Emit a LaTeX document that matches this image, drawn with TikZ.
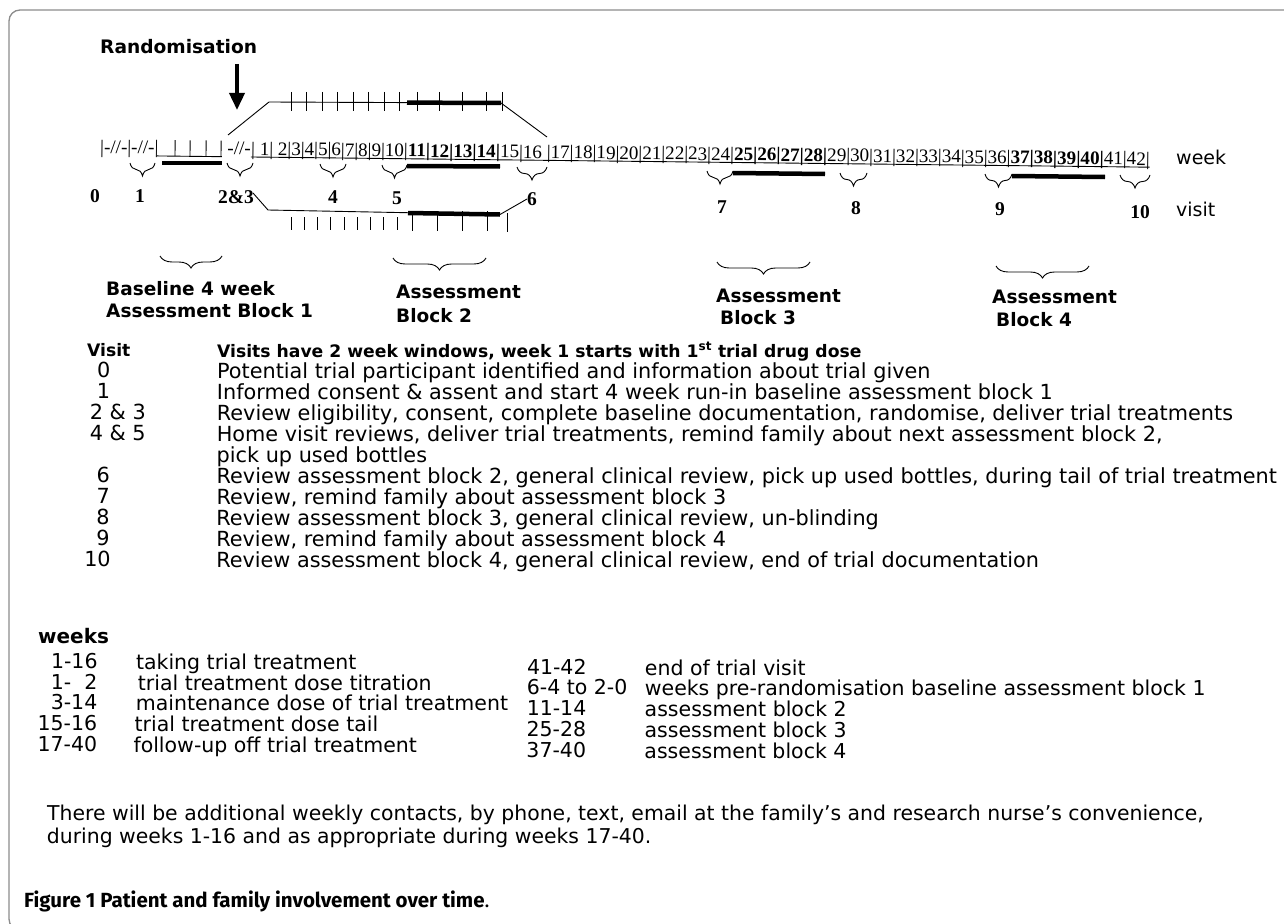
\documentclass[tikz,border=0pt]{standalone}
\usepackage{fontspec}
\setmainfont{DejaVu Sans}
\newfontfamily\serifTL{Liberation Serif}
\newfontfamily\capfont{Fira Sans}
\usetikzlibrary{arrows.meta,decorations.pathreplacing}
\begin{document}
\begin{tikzpicture}[x=1pt,y=-1pt,
  thinln/.style={line width=0.9pt},
  barln/.style={line width=4.5pt},
  framestyle/.style={draw=black!45, line width=1.3pt, rounded corners=11pt},
  sbrace/.style={decorate, decoration={brace, mirror, amplitude=13pt}, line width=0.9pt},
  lbrace/.style={decorate, decoration={brace, mirror, amplitude=12pt}, line width=0.9pt},
  wkfont/.style={font=\serifTL\fontsize{19.1}{22}\selectfont, inner sep=0},
  vnum/.style={font=\serifTL\bfseries\fontsize{19.5}{22}\selectfont, inner sep=0},
  hd/.style={font=\bfseries\fontsize{17.2}{20}\selectfont, inner sep=0, anchor=base west},
  blk/.style={font=\bfseries\fontsize{18.5}{21}\selectfont, inner sep=0, anchor=base west},
  tx/.style={font=\fontsize{20.8}{24}\selectfont, inner sep=0, anchor=base west},
  wtx/.style={font=\fontsize{20.5}{23}\selectfont, inner sep=0, anchor=base west},
  notetx/.style={font=\fontsize{20.4}{24}\selectfont, inner sep=0, anchor=base west},
  sidelbl/.style={font=\fontsize{19}{23}\selectfont, inner sep=0, anchor=base west},
  capt/.style={font=\capfont\fontsize{20.5}{23}\selectfont, inner sep=0, anchor=base west}
]
\useasboundingbox (0,0) rectangle (1284,923);
\fill[white] (0,0) rectangle (1284,923);
% frame
\draw[framestyle] (1290,10) -- (9,10) -- (9,930) -- (30,930);

% Randomisation
\node[hd, font=\bfseries\fontsize{18.6}{21}\selectfont] (rand) at (100,54) {Randomisation};
\coordinate (arrowtop) at (237,64);
\coordinate (arrowtip) at (237,110);
\draw[line width=3.6pt, -{Triangle[width=15pt,length=17pt]}] (arrowtop) -- (arrowtip);

% timeline row (slightly rotated, as in the scan)
\begin{scope}[rotate around={-0.65:(251,155)}, transform shape]
  \node[wkfont, anchor=base west] (pre) at (100,155) {|-//-|-//-|};
  \foreach \x in {175,190,206,221} \draw[thinln] (\x,141) -- (\x,157);
  \draw[thinln] (157,157) -- (222,157);
  \node[wkfont, anchor=base east] (gap) at (251,155) {-//-};
  \node[wkfont, anchor=base west] (wk) at (251,155)
    {|\ 1|\ 2|3|4|5|6|7|8|9|10|\textbf{11|12|13|14|}15|16\ |17|18|19|20|21|22|23|24|\textbf{25|26|27|28|}29|30|31|32|33|34|35|36|\textbf{37|38|39|40|}41|42|};
  \draw[thinln] ([yshift=-2pt]wk.base west) -- ([yshift=-2pt]wk.base east);
\end{scope}

\node[sidelbl] (weeklbl) at (1176,164) {week};
\node[sidelbl] (visitlbl) at (1176,216) {visit};

% thick bars under the timeline
\draw[barln] (162,163) -- (222,163);
\draw[barln] (407,166) -- (500,166.5);
\draw[barln] (733,173) -- (825,174);
\draw[barln] (1012,176) -- (1105,177);

% small braces for visits
\draw[sbrace] (130,163) -- (155,163);
\draw[sbrace] (227,163) -- (253,163);
\draw[sbrace] (320,164) -- (346,164);
\draw[sbrace] (382,165) -- (407,165);
\draw[sbrace] (517,167) -- (547,167);
\draw[sbrace] (707,171) -- (733,171);
\draw[sbrace] (840,173) -- (867,173);
\draw[sbrace] (985,174) -- (1012,174);
\draw[sbrace] (1120,175) -- (1150,175);

% visit numbers
\node[vnum] (v0) at (95,196) {0};
\node[vnum] (v1) at (140,196) {1};
\node[vnum] (v23) at (236,197) {2\&3};
\node[vnum] (v4) at (333,197) {4};
\node[vnum] (v5) at (397,198) {5};
\node[vnum] (v6) at (532,199) {6};
\node[vnum] (v7) at (722,207) {7};
\node[vnum] (v8) at (856,208) {8};
\node[vnum] (v9) at (1000,209) {9};
\node[vnum] (v10) at (1140,212) {10};

% upper expansion (weeks 1-16)
\draw[thinln] (228,135) -- (269,102) -- (501,103) -- (547,137);
\draw[barln] (407,102.6) -- (501,103);
\foreach \x in {291,306.5,322,337.5,353,368.5,384,399.5,417,439,462,486,502}
  \draw[thinln] (\x,92) -- (\x,111);

% lower expansion
\draw[thinln] (253,193) -- (268,210) -- (500,214.5) -- (527,199);
\draw[barln] (408,213) -- (500,214.5);
\foreach \x in {291,304.25,317.5,330.75,344,357.25,370.5,383.75,397}
  \draw[thinln] (\x,217) -- (\x,230);
\foreach \x in {412,437,462,487}
  \draw[thinln] (\x,211) -- (\x,231);
\draw[thinln] (507,213) -- (507,232);

% assessment braces and labels
\draw[lbrace] (160,256) -- (222,256);
\draw[lbrace] (393,258) -- (486,258);
\draw[lbrace] (717,262) -- (810,262);
\draw[lbrace] (996,266) -- (1089,266);
\node[blk] (b1a) at (106,295.5) {Baseline 4 week};
\node[blk] (b1b) at (106,317.5) {Assessment Block 1};
\node[blk] (b2a) at (396,298.5) {Assessment};
\node[blk] (b2b) at (396,322.5) {Block 2};
\node[blk] (b3a) at (716,302.5) {Assessment};
\node[blk] (b3b) at (720,324.5) {Block 3};
\node[blk] (b4a) at (992,303.5) {Assessment};
\node[blk] (b4b) at (996,326.5) {Block 4};

% visit table
\begin{scope}[rotate around={-0.25:(217,351)}]
\node[hd] (vh) at (87,357) {Visit};
\node[hd] (vhd) at (217,357) {Visits have 2 week windows, week 1 starts with 1\textsuperscript{st} trial drug dose};
\node[tx] (n0) at (97,378.5) {0};
\node[tx] (t0) at (217,378.5) {Potential trial participant identified and information about trial given};
\node[tx] (n1) at (97,399.5) {1};
\node[tx] (t1) at (217,399.5) {Informed consent \& assent and start 4 week run-in baseline assessment block 1};
\node[tx] (n23) at (90,420.5) {2 \& 3};
\node[tx] (t23) at (217,420.5) {Review eligibility, consent, complete baseline documentation, randomise, deliver trial treatments};
\node[tx] (n45) at (90,441) {4 \& 5};
\node[tx] (t45) at (217,441) {Home visit reviews, deliver trial treatments, remind family about next assessment block 2,};
\node[tx] (t45b) at (217,462) {pick up used bottles};
\node[tx] (n6) at (97,483.5) {6};
\node[tx] (t6) at (217,483.5) {Review assessment block 2, general clinical review, pick up used bottles, during tail of trial treatment};
\node[tx] (n7) at (97,504.5) {7};
\node[tx] (t7) at (217,504.5) {Review, remind family about assessment block 3};
\node[tx] (n8) at (97,525.5) {8};
\node[tx] (t8) at (217,525.5) {Review assessment block 3, general clinical review, un-blinding};
\node[tx] (n9) at (97,546.5) {9};
\node[tx] (t9) at (217,546.5) {Review, remind family about assessment block 4};
\node[tx] (n10) at (85,567.5) {10};
\node[tx] (t10) at (217,567.5) {Review assessment block 4, general clinical review, end of trial documentation};
\end{scope}

% weeks table
\begin{scope}[rotate around={-0.35:(38,643)}]
\node[hd, font=\bfseries\fontsize{20}{22}\selectfont] (wh) at (38,643) {weeks};
\node[wtx] (w1) at (51,668.5) {1-16};
\node[wtx] (w1t) at (136,668.5) {taking trial treatment};
\node[wtx] (w2) at (51,689.5) {1-\ \ 2};
\node[wtx] (w2t) at (138,689.5) {trial treatment dose titration};
\node[wtx] (w3) at (51,709.5) {3-14};
\node[wtx] (w3t) at (136,709.5) {maintenance dose of trial treatment};
\node[wtx] (w4) at (38,730.5) {15-16};
\node[wtx] (w4t) at (135,730.5) {trial treatment dose tail};
\node[wtx] (w5) at (38,751.5) {17-40};
\node[wtx] (w5t) at (134,751.5) {follow-up off trial treatment};
\node[wtx] (r1) at (527,672) {41-42};
\node[wtx] (r1t) at (645,672) {end of trial visit};
\node[wtx] (r2) at (527,692) {6-4 to 2-0};
\node[wtx] (r2t) at (645,692) {weeks pre-randomisation baseline assessment block 1};
\node[wtx] (r3) at (527,712.5) {11-14};
\node[wtx] (r3t) at (645,712.5) {assessment block 2};
\node[wtx] (r4) at (527,733.5) {25-28};
\node[wtx] (r4t) at (645,733.5) {assessment block 3};
\node[wtx] (r5) at (527,754.5) {37-40};
\node[wtx] (r5t) at (645,754.5) {assessment block 4};
\end{scope}

% note
\begin{scope}[rotate around={-0.75:(47,820)}]
\node[notetx] (note1) at (47,820) {There will be additional weekly contacts, by phone, text, email at the family’s and research nurse’s convenience,};
\node[notetx] (note2) at (47,843) {during weeks 1-16 and as appropriate during weeks 17-40.};
\end{scope}

% caption
\node[capt] (cap) at (24,907) {\textbf{Figure 1 Patient and family involvement over time}.};
\end{tikzpicture}
\end{document}
